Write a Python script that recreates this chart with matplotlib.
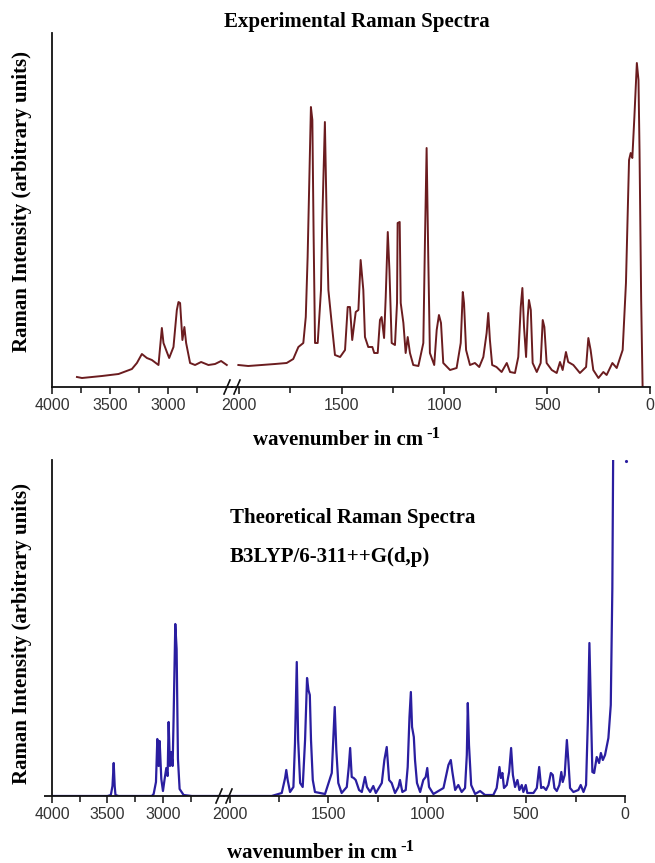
import matplotlib
matplotlib.use("Agg")
import matplotlib.pyplot as plt
from matplotlib.lines import Line2D

# experimental spectrum, high wavenumber part (left of the break)
exp_hi_wn = [3785, 3742, 3570, 3427, 3312, 3269, 3226, 3183, 3140, 3083, 3054, 3040, 3011, 2991,
             2954, 2925, 2911, 2897, 2877, 2860, 2845, 2811, 2768, 2716, 2653, 2596, 2544, 2495]
exp_hi_int = [10, 9, 11, 13, 18, 24, 33, 29, 27, 22, 59, 44, 35, 29,
              40, 77, 85, 84, 47, 60, 44, 24, 22, 25, 22, 23, 26, 22]

# experimental spectrum, 2000-0
exp_lo_wn = [2003, 1955, 1890, 1825, 1768, 1736, 1711, 1687, 1675, 1666, 1650, 1643, 1637, 1630,
             1617, 1601, 1595, 1582, 1573, 1565, 1549, 1533, 1508, 1484, 1471, 1460, 1449, 1432,
             1419, 1408, 1395, 1387, 1371, 1351, 1342, 1325, 1314, 1306, 1294, 1286, 1276, 1268,
             1257, 1241, 1231, 1228, 1218, 1213, 1200, 1189, 1179, 1168, 1152, 1127, 1103, 1095,
             1087, 1079, 1071, 1050, 1038, 1027, 1017, 1006, 973, 941, 921, 911, 905, 895,
             876, 852, 831, 811, 795, 787, 779, 768, 747, 722, 697, 681, 657, 641,
             629, 621, 613, 603, 595, 589, 580, 571, 551, 532, 522, 514, 503, 478,
             454, 438, 425, 409, 398, 373, 341, 311, 300, 289, 276, 251, 227, 211,
             183, 162, 133, 117, 102, 94, 86, 76, 64, 56, 51, 43, 36]
exp_lo_int = [22, 21, 22, 23, 24, 28, 40, 44, 70, 130, 280, 267, 154, 44,
              44, 97, 164, 265, 164, 97, 64, 32, 30, 37, 80, 80, 47, 75,
              77, 127, 97, 50, 40, 40, 34, 34, 67, 70, 49, 90, 155, 117,
              44, 42, 84, 164, 165, 84, 64, 34, 50, 34, 22, 21, 44, 147,
              239, 130, 34, 22, 57, 72, 64, 24, 17, 19, 44, 95, 84, 37,
              22, 24, 20, 30, 54, 74, 47, 22, 20, 15, 24, 15, 14, 30,
              80, 99, 60, 30, 70, 87, 77, 24, 15, 24, 67, 60, 24, 17,
              14, 25, 17, 35, 25, 22, 14, 20, 49, 37, 17, 9, 15, 12,
              24, 19, 37, 104, 227, 234, 229, 270, 324, 307, 237, 87, 0]

# theoretical spectrum, high wavenumber part
theo_hi_wn = [4000, 3500, 3470, 3455, 3444, 3435, 3428, 3400, 3100, 3084, 3063, 3051, 3039, 3030,
              3015, 3000, 2985, 2970, 2958, 2949, 2937, 2925, 2913, 2904, 2889, 2877, 2865, 2850,
              2814, 2740, 2450]
theo_hi_int = [0, 0, 1, 10, 33, 10, 1, 0, 0, 2, 14, 57, 30, 55,
               17, 5, 17, 28, 20, 74, 30, 44, 30, 79, 172, 147, 37, 7,
               1, 0, 0]

# theoretical spectrum, 2000-0
theo_lo_wn = [2028, 1787, 1736, 1719, 1713, 1706, 1694, 1677, 1669, 1660, 1653, 1643, 1630, 1618,
              1608, 1601, 1594, 1588, 1579, 1568, 1517, 1483, 1468, 1460, 1450, 1433, 1407, 1397,
              1390, 1382, 1372, 1362, 1345, 1331, 1315, 1305, 1289, 1273, 1260, 1230, 1217, 1205,
              1193, 1180, 1163, 1146, 1138, 1126, 1109, 1099, 1090, 1083, 1077, 1068, 1062, 1052,
              1036, 1020, 1008, 1000, 991, 969, 918, 893, 881, 873, 859, 843, 826, 809,
              800, 795, 789, 778, 758, 733, 708, 666, 649, 635, 628, 620, 612, 598,
              586, 576, 567, 556, 544, 534, 522, 514, 502, 494, 463, 446, 434, 424,
              413, 399, 387, 375, 365, 357, 345, 332, 322, 315, 305, 294, 286, 278,
              261, 236, 224, 210, 197, 188, 180, 171, 165, 156, 143, 131, 122, 112,
              101, 84, 72, 64, 58]
theo_lo_int = [0, 0, 3, 18, 26, 16, 4, 9, 53, 134, 56, 13, 9, 56,
               118, 106, 101, 56, 16, 4, 2, 23, 89, 46, 13, 3, 9, 29,
               48, 19, 18, 16, 6, 4, 19, 9, 4, 10, 3, 13, 36, 49,
               16, 13, 3, 9, 16, 4, 6, 29, 79, 104, 69, 59, 36, 13,
               4, 16, 19, 28, 9, 2, 8, 31, 36, 24, 6, 11, 4, 8,
               41, 93, 51, 11, 2, 5, 1, 1, 8, 29, 18, 23, 8, 11,
               24, 48, 21, 9, 16, 6, 11, 4, 11, 3, 3, 8, 29, 8,
               9, 6, 11, 23, 21, 8, 5, 11, 24, 14, 21, 56, 34, 8,
               4, 6, 11, 4, 11, 74, 153, 74, 24, 23, 39, 33, 43, 36,
               41, 58, 91, 208, 400]
theo_dot = (-3, 335)

hi_ticks = [4000, 3500, 3000]
hi_minor = [3750, 3250, 2750]
lo_ticks = [2000, 1500, 1000, 500, 0]
lo_minor = [1750, 1250, 750, 250]

W, H = 655, 863
serif = "Liberation Serif"
exp_color = "#6b1c1f"
theo_color = "#2a1ea0"

fig = plt.figure(figsize=(W / 100, H / 100), dpi=100)


def px_box(x0, x1, ytop, ybot):
    return [x0 / W, 1 - ybot / H, (x1 - x0) / W, (ybot - ytop) / H]


def style(ax, left):
    for s in ["top", "right"]:
        ax.spines[s].set_visible(False)
    ax.spines["left"].set_visible(left)
    for s in ["left", "bottom"]:
        ax.spines[s].set_linewidth(1.3)
        ax.spines[s].set_color("#111111")
    ax.tick_params(axis="x", which="major", direction="out", length=5, width=1.2,
                   color="#222222", labelsize=11.5, labelcolor="#333333", pad=3)
    ax.tick_params(axis="x", which="minor", direction="out", length=4, width=1.2, color="#222222")
    for lab in ax.get_xticklabels():
        lab.set_fontfamily("Liberation Sans")


def slashes(xpx, ypx):
    for dx in (-5, 5):
        x = xpx + dx
        fig.add_artist(Line2D([(x - 3) / W, (x + 3) / W], [1 - (ypx + 7) / H, 1 - (ypx - 7) / H],
                              color="#111111", lw=1.2, transform=fig.transFigure))


def make_panel(x0, xb, x1, ytop, ybot, hi_lim, lo_lim, ymax):
    ax1 = fig.add_axes(px_box(x0, xb, ytop, ybot))
    ax2 = fig.add_axes(px_box(xb, x1, ytop, ybot), sharey=ax1)
    ax1.set_xlim(*hi_lim)
    ax2.set_xlim(*lo_lim)
    ax1.set_ylim(0, ymax)
    ax1.set_xticks(hi_ticks)
    ax1.set_xticks(hi_minor, minor=True)
    ax2.set_xticks(lo_ticks)
    ax2.set_xticks(lo_minor, minor=True)
    ax1.set_yticks([])
    ax2.tick_params(axis="y", left=False, labelleft=False)
    style(ax1, True)
    style(ax2, False)
    ax1.patch.set_alpha(0)
    ax2.patch.set_alpha(0)
    slashes(xb, ybot)
    return ax1, ax2


# top panel: experimental
a1, a2 = make_panel(52, 232, 650, 33, 387, (4000, 2450), (2034, 0), 354)
a1.plot(exp_hi_wn, exp_hi_int, color=exp_color, lw=1.4)
a2.plot(exp_lo_wn, exp_lo_int, color=exp_color, lw=1.4)

# bottom panel: theoretical
b1, b2 = make_panel(52, 224, 625, 460, 796, (4000, 2450), (2028, 0), 336)
b1.plot(theo_hi_wn, theo_hi_int, color=theo_color, lw=1.6)
b2.plot(theo_lo_wn, theo_lo_int, color=theo_color, lw=1.6)
b2.plot([theo_dot[0]], [theo_dot[1]], ".", color=theo_color, ms=2.5, clip_on=False)
b1.set_yticks([0])
b1.tick_params(axis="y", direction="out", length=6, width=1.3, labelleft=False, color="#111111")

# texts
tkw = dict(fontfamily=serif, fontweight="bold", color="black")
fig.text(357 / W, 1 - 22 / H, "Experimental Raman Spectra", ha="center", va="center", fontsize=15, **tkw)
fig.text(230 / W, 1 - 518 / H, "Theoretical Raman Spectra", ha="left", va="center", fontsize=15, **tkw)
fig.text(230 / W, 1 - 557 / H, "B3LYP/6-311++G(d,p)", ha="left", va="center", fontsize=15, **tkw)

for ycen in (202, 633):
    fig.text(22 / W, 1 - ycen / H, "Raman Intensity (arbitrary units)", rotation=90,
             ha="center", va="center", fontsize=15, **tkw)

for xl, yl in ((253, 440), (227, 853)):
    t = fig.text(xl / W, 1 - yl / H, "wavenumber in cm", ha="left", va="center", fontsize=15, **tkw)
    fig.text(0, 0, "")
    plt.annotate("-1", xy=(1, 0.8), xycoords=t, ha="left", va="center",
                 xytext=(2, 0), textcoords="offset points", fontsize=12, **tkw)

fig.savefig("out.png", dpi=100)
